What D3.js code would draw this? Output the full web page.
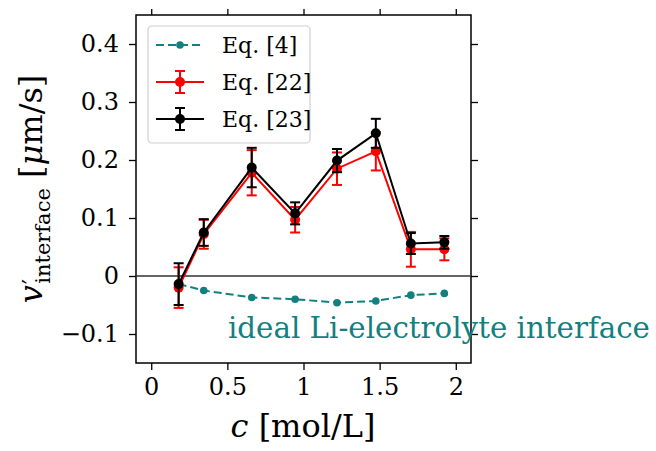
<!DOCTYPE html>
<html>
<head>
<meta charset="utf-8">
<script src="https://cdn.jsdelivr.net/npm/d3@7"></script>
<style>
  body { margin: 0; background: #fff; }
  text { font-family: "DejaVu Serif", "Liberation Serif", serif; }
</style>
</head>
<body>
<div id="chart"></div>
<script>
// concentrations c [mol/L]
const conc = [0.18, 0.345, 0.66, 0.945, 1.22, 1.475, 1.705, 1.925];
// Eq. [4]
const eq4 = [-0.014, -0.025, -0.037, -0.040, -0.046, -0.043, -0.033, -0.030];
// Eq. [22] with error
const eq22 = [-0.020, 0.072, 0.178, 0.097, 0.185, 0.215, 0.046, 0.046];
const eq22Err = [0.035, 0.025, 0.039, 0.022, 0.028, 0.033, 0.030, 0.019];
// Eq. [23] with error
const eq23 = [-0.014, 0.075, 0.187, 0.108, 0.199, 0.246, 0.056, 0.058];
const eq23Err = [0.036, 0.023, 0.034, 0.019, 0.020, 0.025, 0.018, 0.011];

const xTicks = [0, 0.5, 1, 1.5, 2];
const yTicks = [-0.1, 0, 0.1, 0.2, 0.3, 0.4];

const teal = "#138080";

const dimensions = {
  width: 656,
  height: 451,
  margin: { top: 15, left: 136 },
  plotWidth: 335,
  plotHeight: 348,
};

const svg = d3
  .select("#chart")
  .append("svg")
  .attr("width", dimensions.width)
  .attr("height", dimensions.height);

const ctr = svg
  .append("g")
  .attr("transform", `translate(${dimensions.margin.left}, ${dimensions.margin.top})`);

const xScale = d3.scaleLinear().domain([-0.1, 2.1]).range([0, dimensions.plotWidth]);
const yScale = d3.scaleLinear().domain([-0.15, 0.45]).range([dimensions.plotHeight, 0]);

const fmt = (d) => (d < 0 ? "\u2212" : "") + String(Math.abs(d));

// axes, ticks on all four sides pointing out
function styleAxis(g, labels) {
  g.select(".domain").remove();
  g.selectAll(".tick line").attr("stroke", "#000").attr("stroke-width", 1.3);
  g.selectAll(".tick text")
    .attr("fill", "#000")
    .style("font-size", "24px")
    .style("display", labels ? null : "none");
}

ctr.append("g")
  .attr("transform", `translate(0, ${dimensions.plotHeight})`)
  .call(d3.axisBottom(xScale).tickValues(xTicks).tickSize(7).tickPadding(8).tickFormat(fmt))
  .call((g) => styleAxis(g, true));
ctr.append("g")
  .call(d3.axisTop(xScale).tickValues(xTicks).tickSize(6).tickFormat(""))
  .call((g) => styleAxis(g, false));
ctr.append("g")
  .call(d3.axisLeft(yScale).tickValues(yTicks).tickSize(7).tickPadding(10).tickFormat(fmt))
  .call((g) => styleAxis(g, true));
ctr.append("g")
  .attr("transform", `translate(${dimensions.plotWidth}, 0)`)
  .call(d3.axisRight(yScale).tickValues(yTicks).tickSize(7).tickFormat(""))
  .call((g) => styleAxis(g, false));

ctr.append("rect")
  .attr("width", dimensions.plotWidth)
  .attr("height", dimensions.plotHeight)
  .attr("fill", "none")
  .attr("stroke", "#000")
  .attr("stroke-width", 1.5);

// zero line
ctr.append("line")
  .attr("x1", 0)
  .attr("x2", dimensions.plotWidth)
  .attr("y1", yScale(0))
  .attr("y2", yScale(0))
  .attr("stroke", "#333")
  .attr("stroke-width", 1.3);

const line = d3.line().x((d) => xScale(d[0])).y((d) => yScale(d[1]));

// Eq. [4] dashed teal
const eq4Data = conc.map((c, i) => [c, eq4[i]]);
ctr.append("path")
  .attr("d", line(eq4Data))
  .attr("fill", "none")
  .attr("stroke", teal)
  .attr("stroke-width", 2)
  .attr("stroke-dasharray", "8,4");
ctr.append("g")
  .selectAll("circle")
  .data(eq4Data)
  .join("circle")
  .attr("cx", (d) => xScale(d[0]))
  .attr("cy", (d) => yScale(d[1]))
  .attr("r", 3.8)
  .attr("fill", teal);

function drawErrorSeries(values, errs, color) {
  const data = conc.map((c, i) => ({ x: c, y: values[i], e: errs[i] }));
  const g = ctr.append("g");
  g.append("path")
    .attr("d", line(data.map((d) => [d.x, d.y])))
    .attr("fill", "none")
    .attr("stroke", color)
    .attr("stroke-width", 2);
  const bars = g.selectAll(".err").data(data).join("g");
  bars.append("line")
    .attr("x1", (d) => xScale(d.x))
    .attr("x2", (d) => xScale(d.x))
    .attr("y1", (d) => yScale(d.y - d.e))
    .attr("y2", (d) => yScale(d.y + d.e))
    .attr("stroke", color)
    .attr("stroke-width", 2);
  [-1, 1].forEach((s) => {
    bars.append("line")
      .attr("x1", (d) => xScale(d.x) - 5)
      .attr("x2", (d) => xScale(d.x) + 5)
      .attr("y1", (d) => yScale(d.y + s * d.e))
      .attr("y2", (d) => yScale(d.y + s * d.e))
      .attr("stroke", color)
      .attr("stroke-width", 2);
  });
  bars.append("circle")
    .attr("cx", (d) => xScale(d.x))
    .attr("cy", (d) => yScale(d.y))
    .attr("r", 5)
    .attr("fill", color);
}

drawErrorSeries(eq22, eq22Err, "red");
drawErrorSeries(eq23, eq23Err, "black");

// legend
const legend = svg.append("g").attr("transform", "translate(148, 26)");
legend.append("rect")
  .attr("width", 162)
  .attr("height", 117)
  .attr("rx", 4)
  .attr("fill", "#fff")
  .attr("fill-opacity", 0.85)
  .attr("stroke", "#d0d0d0")
  .attr("stroke-width", 1.2);

const legendItems = [
  { label: "Eq. [4]", color: teal, dashed: true },
  { label: "Eq. [22]", color: "red", dashed: false },
  { label: "Eq. [23]", color: "black", dashed: false },
];
legendItems.forEach((item, i) => {
  const cy = 19 + i * 37;
  const it = legend.append("g").attr("transform", `translate(0, ${cy})`);
  it.append("line")
    .attr("x1", 8).attr("x2", 56)
    .attr("stroke", item.color)
    .attr("stroke-width", 2)
    .attr("stroke-dasharray", item.dashed ? "8,4" : null);
  if (item.dashed) {
    it.append("circle").attr("cx", 32).attr("r", 3.8).attr("fill", item.color);
  } else {
    it.append("line").attr("x1", 32).attr("x2", 32).attr("y1", -11).attr("y2", 11)
      .attr("stroke", item.color).attr("stroke-width", 2);
    [-11, 11].forEach((yy) => {
      it.append("line").attr("x1", 27).attr("x2", 37).attr("y1", yy).attr("y2", yy)
        .attr("stroke", item.color).attr("stroke-width", 2);
    });
    it.append("circle").attr("cx", 32).attr("r", 5).attr("fill", item.color);
  }
  it.append("text")
    .attr("x", 74)
    .attr("y", 8)
    .style("font-size", "22px")
    .attr("fill", "#000")
    .text(item.label);
});

// annotation
svg.append("text")
  .attr("x", 228)
  .attr("y", 338)
  .attr("fill", teal)
  .style("font-size", "29.3px")
  .text("ideal Li-electrolyte interface");

// x label
const xl = svg.append("text")
  .attr("x", 303)
  .attr("y", 437)
  .attr("text-anchor", "middle")
  .style("font-size", "32px")
  .attr("fill", "#000");
xl.append("tspan").style("font-style", "italic").text("c");
xl.append("tspan").text(" [mol/L]");

// y label
const yl = svg.append("text")
  .attr("transform", `translate(42, ${dimensions.margin.top + dimensions.plotHeight / 2}) rotate(-90)`)
  .attr("text-anchor", "middle")
  .style("font-size", "32px")
  .attr("fill", "#000");
yl.append("tspan").style("font-style", "italic").text("v");
yl.append("tspan").attr("dx", 1).attr("dy", -2).style("font-size", "24px").text("\u2032");
yl.append("tspan").attr("dx", -5).attr("dy", 10).style("font-size", "21px").text("interface");
yl.append("tspan").attr("dy", -8).text(" [");
yl.append("tspan").style("font-style", "italic").text("\u03bc");
yl.append("tspan").text("m/s]");
</script>
</body>
</html>
